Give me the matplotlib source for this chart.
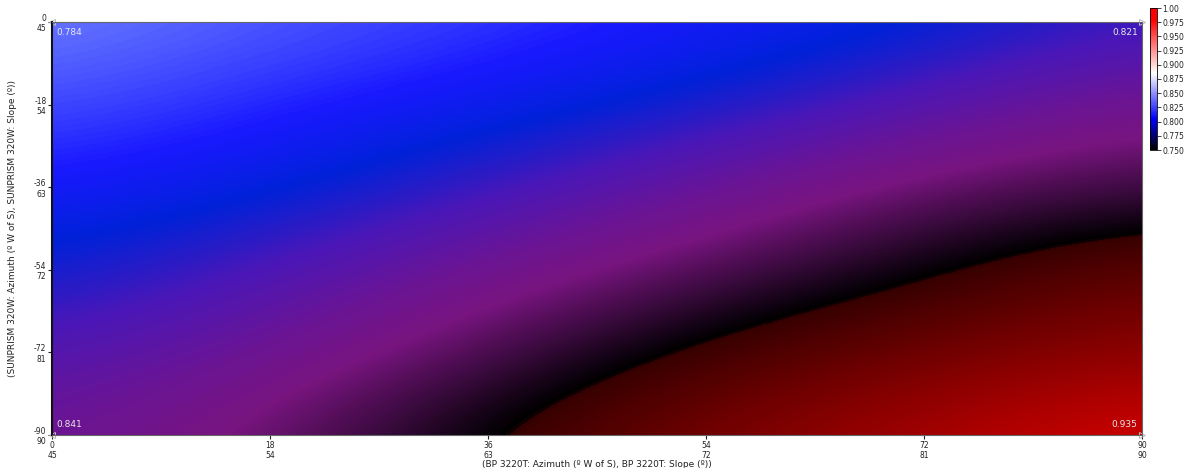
import numpy as np
import matplotlib
matplotlib.use("Agg")
from matplotlib import pyplot as plt
from matplotlib.colors import LinearSegmentedColormap, Normalize
from matplotlib.colorbar import ColorbarBase

# Grid nodes (BP 3220T azimuth along x, SUNPRISM 320W azimuth along y)
x_azimuth = [0, 18, 36, 54, 72, 90]
x_slope = [45, 54, 63, 72, 81, 90]
y_azimuth = [0, -18, -36, -54, -72, -90]
y_slope = [45, 54, 63, 72, 81, 90]

# Values, rows top (y=0) to bottom (y=-90)
values = [
    [0.784, 0.790, 0.795, 0.801, 0.807, 0.821],
    [0.792, 0.798, 0.804, 0.813, 0.829, 0.847],
    [0.801, 0.807, 0.821, 0.839, 0.858, 0.865],
    [0.812, 0.826, 0.844, 0.861, 0.877, 0.895],
    [0.828, 0.842, 0.862, 0.884, 0.899, 0.909],
    [0.841, 0.857, 0.881, 0.903, 0.918, 0.935],
]

corner_labels = ["0.784", "0.821", "0.841", "0.935"]
cbar_ticks = [0.75, 0.775, 0.80, 0.825, 0.85, 0.875, 0.90, 0.925, 0.95, 0.975, 1.00]

# colours as they show on the surface
vmin, vmax = 0.78, 0.94
surf_stops = [
    (0.780, (0.45, 0.52, 1.00)),
    (0.784, (0.42, 0.49, 1.00)),
    (0.800, (0.10, 0.10, 1.00)),
    (0.810, (0.00, 0.13, 0.85)),
    (0.825, (0.29, 0.09, 0.72)),
    (0.841, (0.42, 0.08, 0.58)),
    (0.852, (0.47, 0.08, 0.50)),
    (0.8795, (0.0, 0.0, 0.0)),
    (0.8805, (0.22, 0.0, 0.0)),
    (0.935, (0.86, 0.0, 0.0)),
    (0.940, (0.90, 0.0, 0.0)),
]
surf_cmap = LinearSegmentedColormap.from_list(
    "surf", [((v - vmin) / (vmax - vmin), c) for v, c in surf_stops])

bar_cmap = LinearSegmentedColormap.from_list(
    "bar", [(0.0, (0, 0, 0)), (0.22, (0, 0, 1)), (0.54, (1, 1, 1)),
            (0.92, (1, 0, 0)), (1.0, (1, 0, 0))])

fig = plt.figure(figsize=(11.87, 4.68), dpi=100)
ax = fig.add_axes([52/1187, 1 - 435/468, 1090/1187, 413/468])

dx = (x_azimuth[1] - x_azimuth[0]) / 2
dy = (y_azimuth[0] - y_azimuth[1]) / 2
ax.imshow(np.array(values), cmap=surf_cmap, norm=Normalize(vmin, vmax),
          extent=(x_azimuth[0] - dx, x_azimuth[-1] + dx,
                  y_azimuth[-1] - dy, y_azimuth[0] + dy),
          origin="upper", aspect="auto", interpolation="bicubic",
          interpolation_stage="data")
ax.set_xlim(x_azimuth[0], x_azimuth[-1])
ax.set_ylim(y_azimuth[-1], y_azimuth[0])

ax.set_xticks(x_azimuth)
ax.set_xticklabels(["{}\n{}".format(a, s) for a, s in zip(x_azimuth, x_slope)])
ax.set_yticks(y_azimuth)
ax.set_yticklabels(["{}\n{}".format(a, s) for a, s in zip(y_azimuth, y_slope)])
ax.tick_params(labelsize=5.5, length=3, width=0.8, pad=1, colors="#222222")
for side in ["top", "right", "bottom"]:
    ax.spines[side].set_color("#666666")
ax.spines["left"].set_color("#111111")
ax.spines["left"].set_linewidth(1.5)

ax.set_xlabel("(BP 3220T: Azimuth (º W of S), BP 3220T: Slope (º))",
              fontsize=6.5, labelpad=0, color="#222222")
ax.set_ylabel("(SUNPRISM 320W: Azimuth (º W of S), SUNPRISM 320W: Slope (º))",
              fontsize=6.5, labelpad=12, color="#222222")

# corner values
tc = "#e8e8e8"
ax.text(0.004, 0.985, corner_labels[0], transform=ax.transAxes, fontsize=6.5,
        color=tc, ha="left", va="top")
ax.text(0.996, 0.985, corner_labels[1], transform=ax.transAxes, fontsize=6.5,
        color=tc, ha="right", va="top")
ax.text(0.004, 0.015, corner_labels[2], transform=ax.transAxes, fontsize=6.5,
        color=tc, ha="left", va="bottom")
ax.text(0.996, 0.015, corner_labels[3], transform=ax.transAxes, fontsize=6.5,
        color=tc, ha="right", va="bottom")
for cx, cy, m in [(0, 1, "<"), (1, 1, ">"), (0, 0, "<"), (1, 0, ">")]:
    ax.plot([cx], [cy], marker=m, markersize=4, markerfacecolor="none",
            markeredgecolor="#bbbbbb", markeredgewidth=0.7,
            transform=ax.transAxes, clip_on=False)

# colour bar
cax = fig.add_axes([1150/1187, 1 - 150/468, 7/1187, 142/468])
cb = ColorbarBase(cax, cmap=bar_cmap, norm=Normalize(0.75, 1.0),
                  ticks=cbar_ticks)
cb.ax.set_yticklabels(["{:.3f}".format(t) if t < 1 else "1.00" for t in cbar_ticks])
cb.ax.tick_params(labelsize=5.5, length=3, width=0.6, pad=1, colors="#222222")
cb.outline.set_linewidth(0.6)

fig.savefig("out.png", dpi=100)
